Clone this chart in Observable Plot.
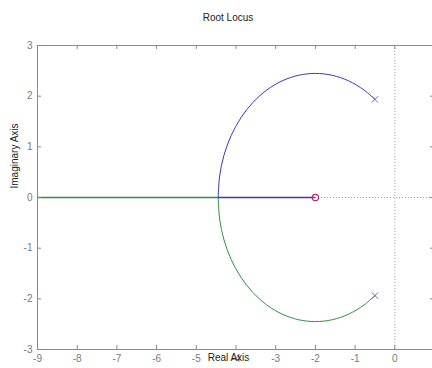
<!DOCTYPE html>
<html><head><meta charset="utf-8">
<script src="https://cdn.jsdelivr.net/npm/d3@7"></script>
<script src="https://cdn.jsdelivr.net/npm/@observablehq/plot@0.6"></script>
<style>html,body{margin:0;padding:0;background:#fff;overflow:hidden} svg{display:block}</style>
</head><body><div id="chart"></div>
<script>
// Tick values and labels
const xTicks = [-9, -8, -7, -6, -5, -4, -3, -2, -1, 0, 1];
const xTickLabels = [-9, -8, -7, -6, -5, -4, -3, -2, -1, 0];
const yTicks = [-3, -2, -1, 0, 1, 2, 3];

// Upper branch (blue): pole -> breakaway
const upperRe = [-0.5, -0.775, -1.162, -1.575, -2.0, -2.425, -2.838, -3.225, -3.574, -3.876, -4.121, -4.302, -4.412, -4.449];
const upperIm = [1.936, 2.121, 2.302, 2.412, 2.449, 2.412, 2.302, 2.121, 1.876, 1.575, 1.225, 0.838, 0.425, 0.0];
// Lower branch (green): pole -> breakaway
const lowerRe = [-0.5, -0.775, -1.162, -1.575, -2.0, -2.425, -2.838, -3.225, -3.574, -3.876, -4.121, -4.302, -4.412, -4.449];
const lowerIm = [-1.936, -2.121, -2.302, -2.412, -2.449, -2.412, -2.302, -2.121, -1.876, -1.575, -1.225, -0.838, -0.425, 0.0];
// Real-axis segments
const blueRealRe = [-4.449, -2.0];
const greenRealRe = [-4.449, -9.0];
// Poles and zero
const polesRe = [-0.5, -0.5];
const polesIm = [1.936, -1.936];
const zerosRe = [-2.0];
const zerosIm = [0.0];

const toPts = (re, im) => re.map((r, i) => ({re: r, im: im[i]}));
const upper = toPts(upperRe, upperIm);
const lower = toPts(lowerRe, lowerIm);
const realSegs = [
  {x1: blueRealRe[0], x2: blueRealRe[1], im: 0, c: "blue"},
  {x1: greenRealRe[0], x2: greenRealRe[1], im: 0, c: "green"}
];
const poles = toPts(polesRe, polesIm);
const zeros = toPts(zerosRe, zerosIm);

const BLUE = "#3838c4", GREEN = "#2f9243", FRAME = "#8a8a8a", TICKTXT = "#7a7a7a";
const W = 432, H = 368, ML = 37, MR = -2, MT = 45, MB = 19;
const fw = W - ML - MR, fh = H - MT - MB, TL = 4;
const fmt = d => String(d);

const plot = Plot.plot({
  width: W, height: H,
  marginLeft: ML, marginRight: MR, marginTop: MT, marginBottom: MB,
  x: {domain: [-9, 1]},
  y: {domain: [-3, 3]},
  style: {fontFamily: "'Liberation Sans', Arial, sans-serif", fontSize: "10px", background: "white", overflow: "hidden"},
  marks: [
    Plot.ruleX([0], {stroke: "#9a9a9a", strokeDasharray: "1,2"}),
    Plot.ruleY([0], {x1: zerosRe[0], x2: xTicks[xTicks.length - 1], stroke: "#9a9a9a", strokeDasharray: "1,2"}),
    Plot.line(upper, {x: "re", y: "im", stroke: BLUE, strokeWidth: 1, curve: "catmull-rom"}),
    Plot.line(lower, {x: "re", y: "im", stroke: GREEN, strokeWidth: 1, curve: "catmull-rom"}),
    Plot.ruleY(realSegs, {x1: "x1", x2: "x2", y: "im", stroke: d => d.c === "blue" ? BLUE : GREEN, strokeWidth: 1.4}),
    Plot.dot(poles, {x: "re", y: "im", symbol: "times", r: 3, stroke: "#6870a8", strokeWidth: 1}),
    Plot.dot(zeros, {x: "re", y: "im", symbol: "circle", r: 3.2, stroke: "#c02a6a", strokeWidth: 1.2, fill: "none"}),
    Plot.frame({stroke: FRAME}),
    // inward ticks on all four sides
    Plot.tickX(xTicks, {x: d => d, stroke: FRAME, insetTop: fh - TL}),
    Plot.tickX(xTicks, {x: d => d, stroke: FRAME, insetBottom: fh - TL}),
    Plot.tickY(yTicks, {y: d => d, stroke: FRAME, insetRight: fw - TL}),
    Plot.tickY(yTicks, {y: d => d, stroke: FRAME, insetLeft: fw - TL}),
    Plot.axisX(xTickLabels, {anchor: "bottom", tickSize: 0, tickPadding: 5, fill: TICKTXT, tickFormat: fmt, label: null}),
    Plot.axisY(yTicks, {anchor: "left", tickSize: 0, tickPadding: 5, fill: TICKTXT, tickFormat: fmt, label: null}),
    Plot.text(["Real Axis"], {frameAnchor: "bottom", dx: -7.5, dy: 11.5, fill: "#222", fontSize: 10}),
    Plot.text(["Imaginary Axis"], {frameAnchor: "left", dx: -23, dy: -9, rotate: -90, fill: "#222", fontSize: 10}),
    Plot.text(["Root Locus"], {frameAnchor: "top", dx: -8, dy: -31.5, fill: "#222", fontSize: 10})
  ]
});
document.getElementById("chart").append(plot);
</script>
</body></html>
